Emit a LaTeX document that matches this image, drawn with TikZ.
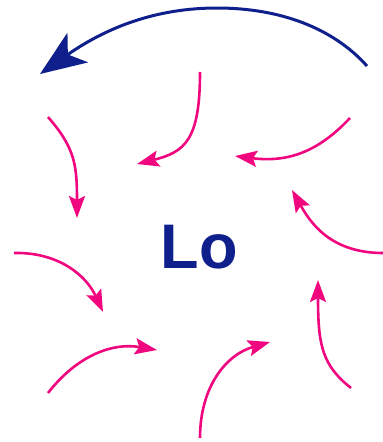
\documentclass[tikz,border=0pt]{standalone}
\usepackage{fontspec}
\setmainfont{Liberation Sans}
\usepackage{tikz}
\usetikzlibrary{arrows.meta}
\definecolor{lowblue}{HTML}{0F1F8C}
\definecolor{windpink}{HTML}{F0067F}

\begin{document}
\begin{tikzpicture}[
  x=1pt, y=-1pt,
  inflow/.style={windpink, line width=2.6pt, -{Stealth[length=22pt, width=16pt, inset=4pt]}},
  spin/.style={lowblue, line width=3pt, -{Stealth[length=46pt, width=36pt, inset=12pt]}},
  lab/.style={text=lowblue, font=\fontsize{63}{63}\selectfont\bfseries, inner sep=0pt, anchor=base}]
\useasboundingbox (0,0) rectangle (383,442);
\node[lab] (lo) at (199,268) {Lo};
\draw[spin] (367,66) .. controls (333,28) and (280,8) .. (217,8) .. controls (160,8) and (110,25) .. (40,74);
\draw[inflow] (200,72) .. controls (200,140) and (185,152) .. (137,164);
\draw[inflow] (350,118) .. controls (320,150) and (290,163) .. (235,156);
\draw[inflow] (48,117) .. controls (75,148) and (77,165) .. (77,218);
\draw[inflow] (383,253) .. controls (330,253) and (310,222) .. (292,190);
\draw[inflow] (14,253) .. controls (58,252) and (86,275) .. (103,312);
\draw[inflow] (351,388) .. controls (322,365) and (318,345) .. (318,280);
\draw[inflow] (48,393) .. controls (75,358) and (110,342) .. (157,350);
\draw[inflow] (200,438) .. controls (200,388) and (225,355) .. (270,342);
\end{tikzpicture}
\end{document}
